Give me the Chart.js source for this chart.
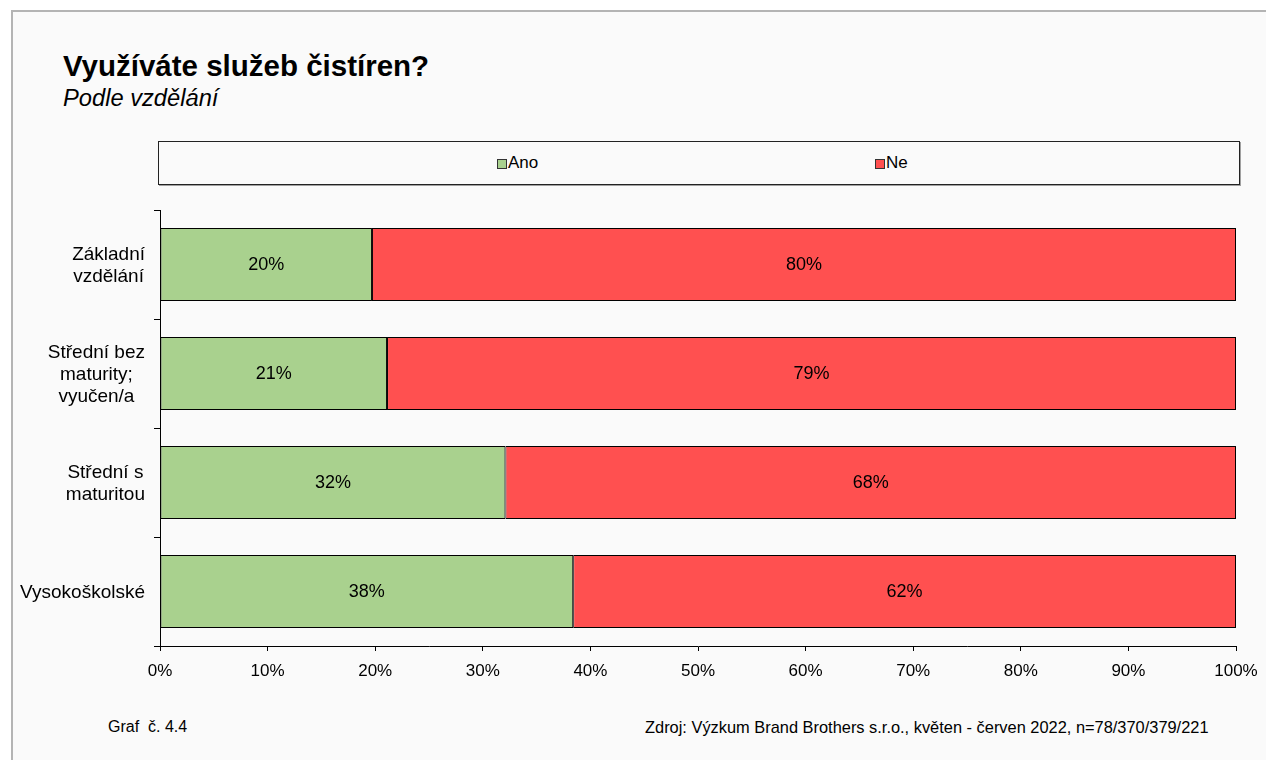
<!DOCTYPE html>
<html lang="cs">
<head>
<meta charset="utf-8">
<title>Využíváte služeb čistíren?</title>
<script src="https://cdn.jsdelivr.net/npm/chart.js@4.4.1/dist/chart.umd.min.js"></script>
<style>
  html, body { margin: 0; padding: 0; width: 1266px; height: 760px; overflow: hidden; background: #fff; }
  body { font-family: "Liberation Sans", Arial, sans-serif; color: #000; position: relative; }
  #panel { position: absolute; left: 11px; top: 10px; width: 1300px; height: 800px; background: #fafafa;
           border-left: 2px solid #b4b4b4; border-top: 2px solid #b4b4b4; }
  .txt { position: absolute; white-space: nowrap; }
  #nadpis { left: 63px; top: 51px; font-size: 29.5px; line-height: 29px; font-weight: bold; }
  #podnadpis { left: 63px; top: 87px; font-size: 23.7px; line-height: 23px; font-style: italic; }
  #legenda { position: absolute; left: 158px; top: 141px; width: 1082px; height: 44px; box-sizing: border-box;
             border: 1px solid #222; background: #fafafa; box-shadow: 1px 1px 0 #a0a0a0; }
  .polozka { position: absolute; top: 11px; font-size: 17px; line-height: 20px; }
  .polozka i { display: inline-block; width: 10px; height: 10px; box-sizing: border-box; border: 1px solid #333;
               margin-right: 1px; vertical-align: -1px; }
  #graf { position: absolute; left: 0; top: 195px; width: 1266px; height: 520px; }
  .pata { top: 718px; font-size: 16px; line-height: 18px; }
  #zdroj { font-size: 16.4px; }
</style>
</head>
<body>
<div id="panel"></div>
<div class="txt" id="nadpis">Využíváte služeb čistíren?</div>
<div class="txt" id="podnadpis">Podle vzdělání</div>
<div id="legenda">
  <span class="polozka" id="leg0" style="left:338px"><i></i>Ano</span>
  <span class="polozka" id="leg1" style="left:716px"><i></i>Ne</span>
</div>
<div id="graf"><canvas id="platno"></canvas></div>
<div class="txt pata" style="left:108px">Graf&nbsp; č. 4.4</div>
<div class="txt pata" id="zdroj" style="left:645px">Zdroj: Výzkum Brand Brothers s.r.o., květen - červen 2022, n=78/370/379/221</div>

<script>
// Kategorie (víceřádkové popisky osy Y)
const kategorie = [
    ['Základní', 'vzdělání'],
    ['Střední bez', 'maturity;', 'vyučen/a'],
    ['Střední s', 'maturitou'],
    ['Vysokoškolské']
];
const serie = ['Ano', 'Ne'];
const ano = [19.7, 21.1, 32.1, 38.4];
const ne = [80.3, 78.9, 67.9, 61.6];
const popiskyX = ['0%', '10%', '20%', '30%', '40%', '50%', '60%', '70%', '80%', '90%', '100%'];

const barvy = ['#a9d18e', '#ff5050'];
const pismo = '"Liberation Sans", Arial, sans-serif';

// Barvy čtverečků v legendě
serie.forEach((s, i) => {
    document.querySelector('#leg' + i + ' i').style.background = barvy[i];
});

// Procenta uprostřed každého úseku sloupce
const popiskyHodnot = {
    id: 'popiskyHodnot',
    afterDatasetsDraw(chart) {
        const ctx = chart.ctx;
        ctx.save();
        ctx.font = '18px ' + pismo;
        ctx.fillStyle = '#000';
        ctx.textAlign = 'center';
        ctx.textBaseline = 'middle';
        chart.data.datasets.forEach((ds, i) => {
            chart.getDatasetMeta(i).data.forEach((bar, j) => {
                const p = bar.getCenterPoint();
                ctx.fillText(Math.round(ds.data[j]) + '%', p.x, p.y + 1);
            });
        });
        ctx.restore();
    }
};

// Popisky kategorií: blok zarovnaný doprava, řádky na střed
const popiskyKategorii = {
    id: 'popiskyKategorii',
    afterDraw(chart) {
        const ctx = chart.ctx;
        const osaY = chart.scales.y;
        const vyska = 22;
        ctx.save();
        ctx.font = '19px ' + pismo;
        ctx.fillStyle = '#000';
        ctx.textAlign = 'center';
        ctx.textBaseline = 'middle';
        kategorie.forEach((radky, i) => {
            const y = osaY.getPixelForTick(i);
            const sirka = Math.max(...radky.map(r => ctx.measureText(r).width));
            const x = osaY.right - 15 - sirka / 2;
            const zacatek = y - (radky.length - 1) * vyska / 2 + 1;
            radky.forEach((r, k) => ctx.fillText(r, x, zacatek + k * vyska));
        });
        ctx.restore();
    }
};

new Chart(document.getElementById('platno'), {
    type: 'bar',
    data: {
        labels: kategorie,
        datasets: [ano, ne].map((hodnoty, i) => ({
            label: serie[i],
            data: hodnoty,
            backgroundColor: barvy[i],
            borderColor: '#000',
            borderWidth: 1,
            borderSkipped: false,
            barPercentage: 0.67,
            categoryPercentage: 1
        }))
    },
    options: {
        indexAxis: 'y',
        responsive: true,
        maintainAspectRatio: false,
        animation: false,
        layout: { padding: { top: 15, right: 30, left: 0, bottom: 0 } },
        plugins: {
            legend: { display: false },
            tooltip: { enabled: false }
        },
        scales: {
            x: {
                stacked: true,
                min: 0,
                max: 100,
                ticks: {
                    stepSize: 10,
                    maxRotation: 0,
                    padding: 10,
                    color: '#000',
                    font: { family: pismo, size: 17 },
                    callback: (v, i) => popiskyX[i]
                },
                grid: { drawOnChartArea: false, color: '#000', tickLength: 5 },
                border: { color: '#000' },
                // pevná výška osy a bez přesahu popisků doprava
                afterFit: s => { s.height = 69; s.paddingLeft = 0; s.paddingRight = 0; }
            },
            y: {
                stacked: true,
                ticks: { display: false },
                grid: { drawOnChartArea: false, color: '#000', tickLength: 6, offset: true },
                border: { color: '#000' },
                afterFit: s => { s.width = 160; }
            }
        }
    },
    plugins: [popiskyHodnot, popiskyKategorii]
});
</script>
</body>
</html>
